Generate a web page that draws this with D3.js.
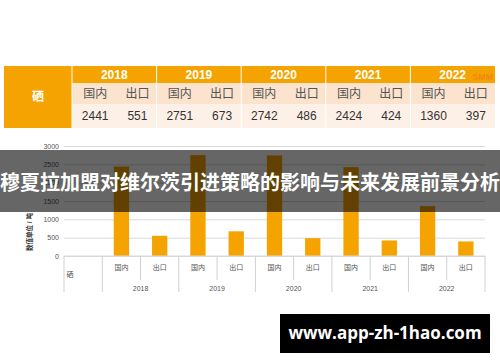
<!DOCTYPE html>
<meta charset="utf-8">
<title>硒 国内 / 出口</title>
<style>
  body { margin: 0; background: #fff; }
  svg { display: block; font-family: "Liberation Sans", "Noto Sans CJK SC", sans-serif; }
</style>
<body>
<script src="https://d3js.org/d3.v7.min.js"></script>
<script>

// values
const years = ["2018", "2019", "2020", "2021", "2022"];
const kinds = ["国内", "出口"];
const domestic = [2441, 2751, 2742, 2424, 1360];
const exported = [551, 673, 486, 424, 397];
const yTicks = [0, 500, 1000, 1500, 2000, 2500, 3000];
const element = "硒";
const yLabel = "数值单位 / 吨";
const title = "穆夏拉加盟对维尔茨引进策略的影响与未来发展前景分析";
const site = "www.app-zh-1hao.com";

const width = 500, height = 362;
const orange = "#f5a300";

const svg = d3.select("body").append("svg")
    .attr("width", width)
    .attr("height", height);

// ---- table at the top
const tbl = { x0: 4, xMid: 72, x1: 495, y0: 66, y1: 83, y2: 104, y3: 128 };
const colX = d3.scaleBand().domain(years).range([tbl.xMid, tbl.x1]);

const table = svg.append("g");
table.append("rect")
    .attr("x", tbl.x0).attr("y", tbl.y0)
    .attr("width", tbl.xMid - tbl.x0).attr("height", tbl.y3 - tbl.y0)
    .attr("fill", orange);
table.append("rect")
    .attr("x", tbl.xMid).attr("y", tbl.y0)
    .attr("width", tbl.x1 - tbl.xMid).attr("height", tbl.y1 - tbl.y0)
    .attr("fill", orange);
table.append("rect")
    .attr("x", tbl.xMid).attr("y", tbl.y1)
    .attr("width", tbl.x1 - tbl.xMid).attr("height", tbl.y2 - tbl.y1)
    .attr("fill", "#fbe3cd");
table.append("rect")
    .attr("x", tbl.xMid).attr("y", tbl.y2)
    .attr("width", tbl.x1 - tbl.xMid).attr("height", tbl.y3 - tbl.y2)
    .attr("fill", "#fdf1e7");

table.append("text")
    .attr("x", (tbl.x0 + tbl.xMid) / 2).attr("y", (tbl.y0 + tbl.y3) / 2 + 4)
    .attr("text-anchor", "middle")
    .attr("fill", "#fff").attr("font-weight", "bold").attr("font-size", 12)
    .text(element);

const cols = table.selectAll("g.year")
  .data(years)
  .enter().append("g")
    .attr("class", "year");

cols.append("line")
    .attr("x1", d => colX(d)).attr("x2", d => colX(d))
    .attr("y1", tbl.y0).attr("y2", tbl.y3)
    .attr("stroke", "#fff").attr("stroke-width", 1);

cols.append("text")
    .attr("x", d => colX(d) + colX.bandwidth() / 2)
    .attr("y", tbl.y1 - 4)
    .attr("text-anchor", "middle")
    .attr("fill", "#fff").attr("font-weight", "bold").attr("font-size", 12)
    .text(d => d);

const sub = d3.scaleBand().domain(kinds).range([0, colX.bandwidth()]);

years.forEach((y, i) => {
  const vals = [domestic[i], exported[i]];
  kinds.forEach((k, j) => {
    const cx = colX(y) + sub(k) + sub.bandwidth() / 2 + 2;
    table.append("text")
        .attr("x", cx).attr("y", tbl.y2 - 6)
        .attr("text-anchor", "middle")
        .attr("fill", "#555").attr("font-size", 12)
        .text(k);
    table.append("text")
        .attr("x", cx).attr("y", tbl.y3 - 8)
        .attr("text-anchor", "middle")
        .attr("fill", "#333").attr("font-size", 12)
        .text(vals[j]);
  });
});

// faint watermark in the corner
table.append("text")
    .attr("x", 493).attr("y", 80)
    .attr("text-anchor", "end")
    .attr("fill", "#e05030").attr("fill-opacity", 0.35)
    .attr("font-weight", "bold").attr("font-size", 9)
    .text("SMM");

// ---- bar chart
const plot = { left: 64, right: 485, top: 146, bottom: 256 };

const cats = [element];
const vals = [null];
years.forEach((y, i) => {
  cats.push(y + "国内"); vals.push(domestic[i]);
  cats.push(y + "出口"); vals.push(exported[i]);
});

const x = d3.scaleBand().domain(cats).range([plot.left, plot.right]);
const yScale = d3.scaleLinear().domain([0, 3000]).range([plot.bottom, plot.top]);

const chart = svg.append("g");

const yAxis = chart.append("g")
    .attr("transform", `translate(${plot.left},0)`)
    .call(d3.axisLeft(yScale).tickValues(yTicks).tickFormat(d3.format("d"))
      .tickSize(-(plot.right - plot.left)).tickPadding(5));
yAxis.select(".domain").remove();
yAxis.selectAll(".tick line").attr("stroke", "#d9d9d9");
yAxis.selectAll(".tick text")
    .attr("fill", "#555").attr("font-size", 7);

chart.append("text")
    .attr("transform", `translate(32,232) rotate(-90)`)
    .attr("text-anchor", "middle")
    .attr("fill", "#333").attr("font-size", 6.5).attr("font-weight", "bold")
    .text(yLabel);

chart.selectAll("rect.bar")
  .data(cats.map((c, i) => ({ c, v: vals[i] })).filter(d => d.v != null))
  .enter().append("rect")
    .attr("class", "bar")
    .attr("x", d => x(d.c) + x.bandwidth() * 0.3)
    .attr("width", x.bandwidth() * 0.4)
    .attr("y", d => yScale(d.v))
    .attr("height", d => plot.bottom - yScale(d.v))
    .attr("fill", orange);

// category axis: dividers and labels
const axisG = chart.append("g");
axisG.append("line")
    .attr("x1", plot.left).attr("x2", plot.right)
    .attr("y1", plot.bottom).attr("y2", plot.bottom)
    .attr("stroke", "#d9d9d9");

const groupEdges = [plot.left].concat(years.map(y => x(y + "国内")), [plot.right]);
axisG.selectAll("line.group")
  .data(groupEdges)
  .enter().append("line")
    .attr("x1", d => d).attr("x2", d => d)
    .attr("y1", plot.bottom).attr("y2", 292)
    .attr("stroke", "#d0d0d0");

axisG.selectAll("line.inner")
  .data(years)
  .enter().append("line")
    .attr("x1", d => x(d + "出口")).attr("x2", d => x(d + "出口"))
    .attr("y1", plot.bottom).attr("y2", 280)
    .attr("stroke", "#d0d0d0");

axisG.selectAll("text.kind")
  .data(cats.slice(1))
  .enter().append("text")
    .attr("x", d => x(d) + x.bandwidth() / 2)
    .attr("y", 270)
    .attr("text-anchor", "middle")
    .attr("fill", "#555").attr("font-size", 7)
    .text(d => d.slice(4));

axisG.append("text")
    .attr("x", 70).attr("y", 277)
    .attr("text-anchor", "middle")
    .attr("fill", "#555").attr("font-size", 7)
    .text(element);

axisG.selectAll("text.year")
  .data(years)
  .enter().append("text")
    .attr("x", d => x(d + "出口"))
    .attr("y", 291)
    .attr("text-anchor", "middle")
    .attr("fill", "#555").attr("font-size", 7)
    .text(d => d);

// ---- title banner over the chart
svg.append("rect")
    .attr("x", 0).attr("y", 150)
    .attr("width", width).attr("height", 62)
    .attr("fill", "#000").attr("fill-opacity", 0.6);

svg.append("text")
    .attr("x", width / 2).attr("y", 190)
    .attr("text-anchor", "middle")
    .attr("fill", "#fff").attr("font-weight", "bold").attr("font-size", 20)
    .attr("font-family", "'Noto Sans CJK SC', sans-serif")
    .text(title);

// ---- site footer
svg.append("rect")
    .attr("x", 280).attr("y", 314)
    .attr("width", 210).attr("height", 39)
    .attr("fill", "#000");

svg.append("text")
    .attr("x", 385).attr("y", 339)
    .attr("text-anchor", "middle")
    .attr("fill", "#fff").attr("font-weight", "bold").attr("font-size", 17)
    .attr("font-family", "'Open Sans', 'DejaVu Sans', sans-serif")
    .text(site);

</script>
